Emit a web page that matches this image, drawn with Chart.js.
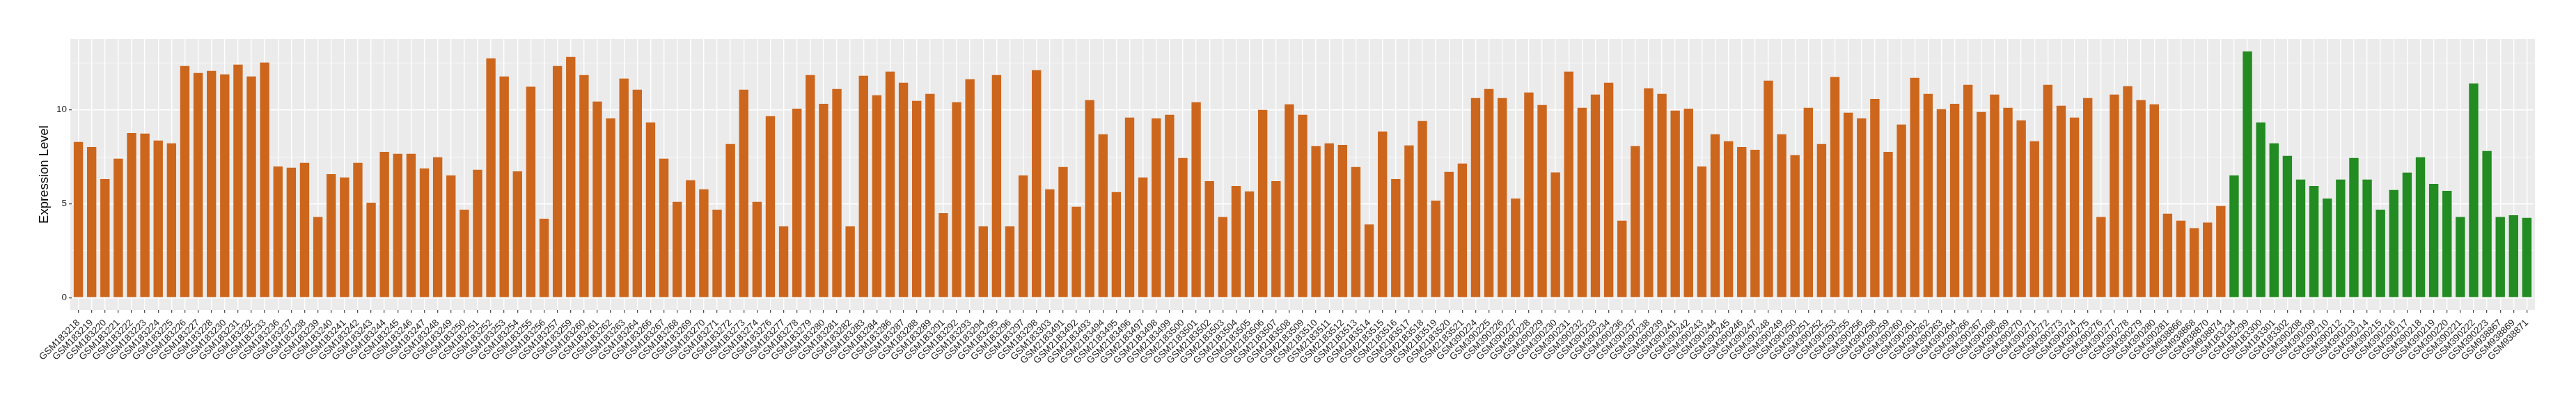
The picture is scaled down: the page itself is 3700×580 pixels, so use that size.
<!DOCTYPE html>
<html>
<head>
<meta charset="utf-8">
<script src="https://cdn.jsdelivr.net/npm/chart.js@4.4.1/dist/chart.umd.min.js"></script>
<style>
    html, body { margin: 0; padding: 0; background: #ffffff; }
    canvas { display: block; }
</style>
</head>
<body>
<canvas id="expression" width="3700" height="580"></canvas>
<script>
// orange samples (left block)
const caseSamples = [
    'GSM183218', 'GSM183219', 'GSM183220', 'GSM183221', 'GSM183222', 'GSM183223', 'GSM183224', 'GSM183225',
    'GSM183226', 'GSM183227', 'GSM183228', 'GSM183230', 'GSM183231', 'GSM183232', 'GSM183233', 'GSM183236',
    'GSM183237', 'GSM183238', 'GSM183239', 'GSM183240', 'GSM183241', 'GSM183242', 'GSM183243', 'GSM183244',
    'GSM183245', 'GSM183246', 'GSM183247', 'GSM183248', 'GSM183249', 'GSM183250', 'GSM183251', 'GSM183252',
    'GSM183253', 'GSM183254', 'GSM183255', 'GSM183256', 'GSM183257', 'GSM183259', 'GSM183260', 'GSM183261',
    'GSM183262', 'GSM183263', 'GSM183264', 'GSM183266', 'GSM183267', 'GSM183268', 'GSM183269', 'GSM183270',
    'GSM183271', 'GSM183272', 'GSM183273', 'GSM183274', 'GSM183276', 'GSM183277', 'GSM183278', 'GSM183279',
    'GSM183280', 'GSM183281', 'GSM183282', 'GSM183283', 'GSM183284', 'GSM183286', 'GSM183287', 'GSM183288',
    'GSM183289', 'GSM183291', 'GSM183292', 'GSM183293', 'GSM183294', 'GSM183295', 'GSM183296', 'GSM183297',
    'GSM183298', 'GSM183303',
    'GSM2183491', 'GSM2183492', 'GSM2183493', 'GSM2183494', 'GSM2183495', 'GSM2183496', 'GSM2183497', 'GSM2183498',
    'GSM2183499', 'GSM2183500', 'GSM2183501', 'GSM2183502', 'GSM2183503', 'GSM2183504', 'GSM2183505', 'GSM2183506',
    'GSM2183507', 'GSM2183508', 'GSM2183509', 'GSM2183510', 'GSM2183511', 'GSM2183512', 'GSM2183513', 'GSM2183514',
    'GSM2183515', 'GSM2183516', 'GSM2183517', 'GSM2183518', 'GSM2183519', 'GSM2183520', 'GSM2183521',
    'GSM390224', 'GSM390225', 'GSM390226', 'GSM390227', 'GSM390228', 'GSM390229', 'GSM390230', 'GSM390231',
    'GSM390232', 'GSM390233', 'GSM390234', 'GSM390236', 'GSM390237', 'GSM390238', 'GSM390239', 'GSM390241',
    'GSM390242', 'GSM390243', 'GSM390244', 'GSM390245', 'GSM390246', 'GSM390247', 'GSM390248', 'GSM390249',
    'GSM390250', 'GSM390251', 'GSM390252', 'GSM390253', 'GSM390255', 'GSM390256', 'GSM390258', 'GSM390259',
    'GSM390260', 'GSM390261', 'GSM390262', 'GSM390263', 'GSM390264', 'GSM390266', 'GSM390267', 'GSM390268',
    'GSM390269', 'GSM390270', 'GSM390271', 'GSM390272', 'GSM390273', 'GSM390274', 'GSM390275', 'GSM390276',
    'GSM390277', 'GSM390278', 'GSM390279', 'GSM390280', 'GSM390281',
    'GSM938866', 'GSM938868', 'GSM938870', 'GSM938874'
];
const caseLevels = [
    8.29, 8.03, 6.32, 7.40, 8.77, 8.74, 8.37, 8.22, 12.34, 11.97, 12.08, 11.89, 12.41, 11.78, 12.52, 6.99,
    6.92, 7.18, 4.30, 6.58, 6.40, 7.18, 5.06, 7.77, 7.66, 7.66, 6.88, 7.48, 6.51, 4.69, 6.81, 12.75,
    11.78, 6.73, 11.23, 4.20, 12.34, 12.82, 11.86, 10.45, 9.55, 11.67, 11.08, 9.33, 7.40, 5.10, 6.25, 5.77,
    4.69, 8.18, 11.08, 5.10, 9.67, 3.80, 10.07, 11.86, 10.33, 11.11, 3.80, 11.82, 10.78, 12.04, 11.45, 10.48,
    10.85, 4.50, 10.41, 11.63, 3.80, 11.86, 3.80, 6.51, 12.12, 5.77,
    6.96, 4.84, 10.52, 8.70, 5.62, 9.59, 6.40, 9.55, 9.74, 7.44, 10.41, 6.21, 4.30, 5.95, 5.66, 10.00,
    6.21, 10.30, 9.74, 8.07, 8.22, 8.14, 6.96, 3.90, 8.85, 6.32, 8.11, 9.41, 5.17, 6.70, 7.14,
    10.63, 11.11, 10.63, 5.28, 10.93, 10.26, 6.67, 12.04, 10.11, 10.82, 11.45, 4.10, 8.07, 11.15, 10.85, 9.96,
    10.07, 6.99, 8.70, 8.33, 8.03, 7.88, 11.56, 8.70, 7.59, 10.11, 8.18, 11.75, 9.85, 9.55, 10.59, 7.77,
    9.22, 11.71, 10.85, 10.04, 10.33, 11.34, 9.89, 10.82, 10.11, 9.44, 8.33, 11.34, 10.22, 9.59, 10.63, 4.30,
    10.82, 11.26, 10.52, 10.30, 4.47,
    4.10, 3.70, 4.00, 4.88
];

// green samples (right block)
const controlSamples = [
    'GSM183234', 'GSM183299', 'GSM183300', 'GSM183301', 'GSM183302',
    'GSM390208', 'GSM390209', 'GSM390210', 'GSM390212', 'GSM390213', 'GSM390214', 'GSM390215', 'GSM390216',
    'GSM390217', 'GSM390218', 'GSM390219', 'GSM390220', 'GSM390221', 'GSM390222', 'GSM390223',
    'GSM938867', 'GSM938869', 'GSM938871'
];
const controlLevels = [
    6.51, 13.12, 9.33, 8.22, 7.55,
    6.29, 5.95, 5.28, 6.29, 7.44, 6.29, 4.69, 5.73, 6.66, 7.48, 6.06, 5.69, 4.30, 11.41, 7.81,
    4.30, 4.39, 4.25
];

const yBreaks = [0, 5, 10];
const yMinorBreaks = [2.5, 7.5, 12.5];

const CASE_COLOR = '#CD661D';
const CONTROL_COLOR = '#228B22';
const TEXT_COLOR = '#1F1F1F';
const FONT = "'Liberation Sans', Arial, Helvetica, sans-serif";

// ggplot-style panel: grey background, a little wider than the category band
const panelBackground = {
    id: 'panelBackground',
    beforeDraw(chart) {
        const { ctx, chartArea } = chart;
        const pad = chart.scales.x.width / chart.data.labels.length * 0.1;
        ctx.save();
        ctx.fillStyle = '#EBEBEB';
        ctx.fillRect(chartArea.left - pad, chartArea.top, chartArea.width + pad * 2, chartArea.height);
        ctx.restore();
    }
};

const labels = caseSamples.concat(controlSamples);
const levels = caseLevels.concat(controlLevels);
const colors = caseSamples.map(() => CASE_COLOR).concat(controlSamples.map(() => CONTROL_COLOR));

new Chart(document.getElementById('expression').getContext('2d'), {
    type: 'bar',
    data: {
        labels: labels,
        datasets: [{
            data: levels,
            backgroundColor: colors,
            borderWidth: 0,
            categoryPercentage: 1.0,
            barPercentage: 0.7,
        }]
    },
    plugins: [panelBackground],
    options: {
        responsive: false,
        animation: false,
        events: [],
        layout: {
            padding: { left: 0, right: 61, top: 56, bottom: 0 }
        },
        plugins: {
            legend: { display: false },
            tooltip: { enabled: false }
        },
        scales: {
            x: {
                offset: true,
                border: { display: false },
                grid: {
                    offset: false,
                    color: '#FFFFFF',
                    lineWidth: 1.4,
                    tickColor: '#333333',
                    tickLength: 4,
                    tickWidth: 1.1,
                },
                ticks: {
                    autoSkip: false,
                    minRotation: 45,
                    maxRotation: 45,
                    padding: 6.5,
                    color: TEXT_COLOR,
                    font: { family: FONT, size: 13.5 }
                },
                afterFit: (scale) => { scale.height = 135; }
            },
            y: {
                min: -0.656,
                max: 13.776,
                border: { display: false },
                afterBuildTicks: (scale) => {
                    scale.ticks = yBreaks.concat(yMinorBreaks).sort((a, b) => a - b).map(v => ({ value: v }));
                },
                grid: {
                    color: '#FFFFFF',
                    lineWidth: (ctx) => yBreaks.includes(ctx.tick.value) ? 1.4 : 0.7,
                    tickColor: (ctx) => yBreaks.includes(ctx.tick.value) ? '#333333' : 'rgba(0,0,0,0)',
                    tickLength: 4,
                    tickWidth: 1.1,
                },
                ticks: {
                    padding: 3,
                    color: TEXT_COLOR,
                    font: { family: FONT, size: 13.5 },
                    callback: (value) => yBreaks.includes(value) ? String(value) : ''
                },
                title: {
                    display: true,
                    text: 'Expression Level',
                    color: '#000000',
                    font: { family: FONT, size: 18.5 },
                    padding: { top: 53, bottom: 0 }
                },
                afterFit: (scale) => { scale.width = 103; }
            }
        }
    }
});
</script>
</body>
</html>
